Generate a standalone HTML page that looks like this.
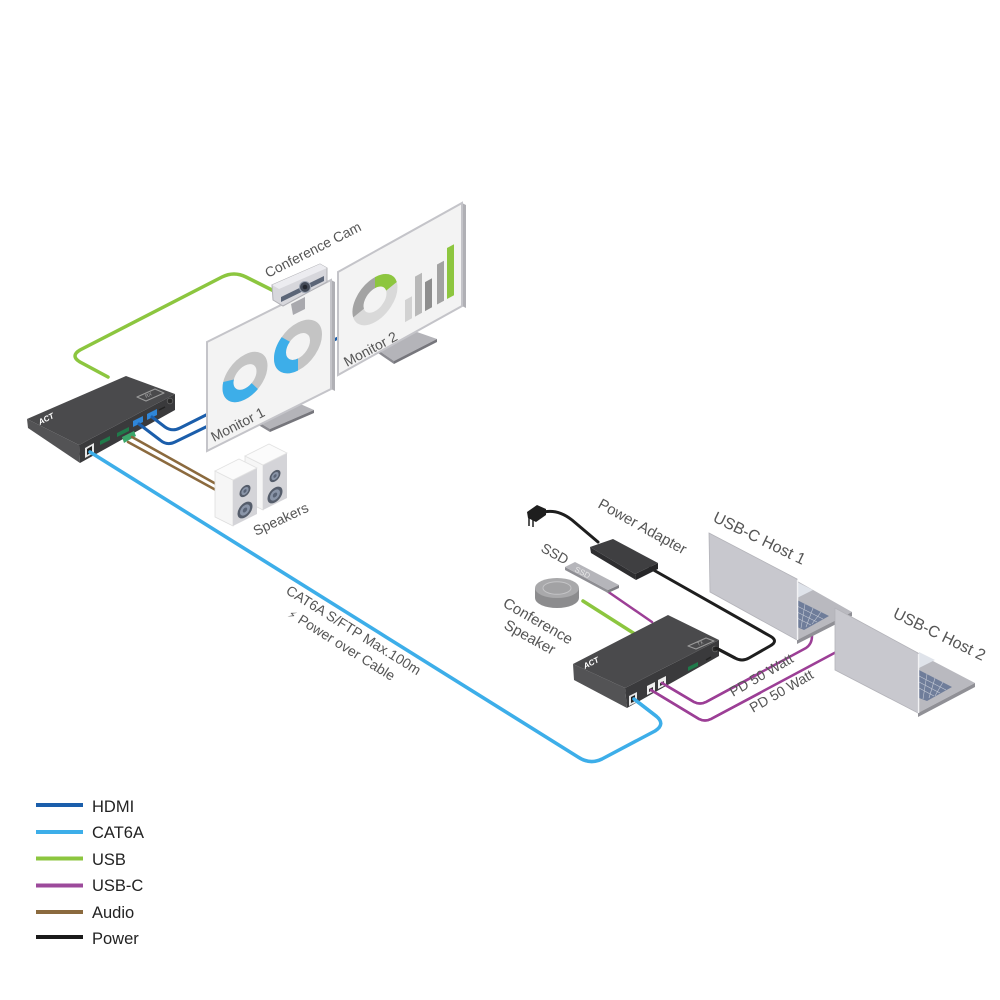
<!DOCTYPE html>
<html><head><meta charset="utf-8"><style>
html,body{margin:0;padding:0;background:#fff;}
svg{display:block;}
text{font-family:"Liberation Sans","DejaVu Sans",sans-serif;}
</style></head><body>
<svg width="1000" height="1000" viewBox="0 0 1000 1000" xmlns="http://www.w3.org/2000/svg">
<rect width="1000" height="1000" fill="#fff"/>

<!-- ===== cables under devices ===== -->
<g fill="none" stroke-linecap="round" stroke-linejoin="round">
  <!-- USB green left -->
  <path d="M108,377 L80,362 Q70,356 80,350 L222,277 Q234,271 246,277 L278,293" stroke="#8cc63f" stroke-width="3.5"/>
  <!-- HDMI between monitors -->
  <path d="M318,348 L346,334" stroke="#1b5eab" stroke-width="3"/>
  <!-- power from plug to adapter -->
  <path d="M544,512 Q558,509 572,520 L598,542" stroke="#1e1e1e" stroke-width="3"/>
  <!-- USB green right -->
  <path d="M583,601 L638,636" stroke="#8cc63f" stroke-width="3.5"/>
  <!-- USB-C SSD -->
  <path d="M607,591 L652,622" stroke="#9c3f96" stroke-width="2.5"/>
  <!-- power adapter to TX -->
  <path d="M650,568 L770,636 Q779,641 770,646 L749,658 Q742,662 735,658 L716,648" stroke="#1e1e1e" stroke-width="3"/>
  <!-- USB-C to laptops -->
  <path d="M662,683 L694,702 Q700,705 706,702 L806,648 Q812,644 812,636" stroke="#9c3f96" stroke-width="2.5"/>
  <path d="M651,690 L699,719 Q705,722 711,719 L840,650" stroke="#9c3f96" stroke-width="2.5"/>
</g>

<!-- ===== RX box ===== -->
<polygon points="27,419 79,445 80,463 28,428" fill="#535355"/>
<polygon points="79,445 175,394 175,410 80,463" fill="#3a3a3c"/>
<polygon points="27,419 126,376 175,394 79,445" fill="#4a4a4c"/>
<text transform="translate(40,425) rotate(-27)" font-size="8" font-weight="bold" font-style="italic" fill="#fff">ACT</text>
<polygon points="137,397 155,389 164,393 146,401" fill="none" stroke="#9a9a9a" stroke-width="1.2" stroke-linejoin="round"/>
<text transform="translate(146,398) rotate(-24)" font-size="5" fill="#aaa">RX</text>
<!-- ports RX -->
<polygon points="85,448 94,443 94,453 85,458" fill="#e6e6e6"/>
<polygon points="87,449 92,446 92,452 87,455" fill="#222"/>
<polygon points="100,441 110,436 110,440 100,445" fill="#1f7a4a"/>
<polygon points="117,433 129,427 129,431 117,437" fill="#1f7a4a"/>
<polygon points="122,437 134,431 136,436 124,443" fill="#3aa76a"/>
<polygon points="133,421 143,416 143,422 133,427" fill="#2f86d8"/>
<polygon points="147,414 157,409 157,415 147,420" fill="#2f86d8"/>
<line x1="159" y1="410" x2="165" y2="407" stroke="#222" stroke-width="1.5"/>
<circle cx="170" cy="401" r="2.8" fill="#2a2a2a" stroke="#666" stroke-width="0.8"/>

<!-- RX cables on top -->
<g fill="none" stroke-linecap="round" stroke-linejoin="round">
  <path d="M152,417 L165,427 Q172,432 180,428 L212,412" stroke="#1b5eab" stroke-width="3"/>
  <path d="M139,424 L160,440 Q167,446 175,442 L212,424" stroke="#1b5eab" stroke-width="3"/>
  <path d="M132,437 L225,489" stroke="#8b6a3e" stroke-width="2.5"/>
  <path d="M128,442 L225,495" stroke="#8b6a3e" stroke-width="2.5"/>
  <path d="M90,452 L578,757 Q590,765 602,759 L655,731 Q666,724 656,716 L634,699" stroke="#3daee9" stroke-width="3.5"/>
</g>

<!-- ===== Monitor 2 ===== -->
<polygon points="378,350 417,332 437,339 394,361" fill="#b4b4b9"/>
<polygon points="394,361 437,339 437,342 394,364" fill="#76767c"/>
<polygon points="378,350 394,361 394,364 378,353" fill="#8a8a90"/>
<polygon points="462,203 466,205 466,308 462,306" fill="#b0b0b5"/>
<polygon points="338,272 462,203 462,306 338,375" fill="#f3f3f3" stroke="#c4c4c9" stroke-width="2"/>
<g transform="matrix(1,-0.55,0,1,338,272)">
  <circle cx="37" cy="48" r="17" fill="none" stroke="#d9d9d9" stroke-width="11"/>
  <circle cx="37" cy="48" r="17" fill="none" stroke="#a3a3a3" stroke-width="11" stroke-dasharray="31.2 200" transform="rotate(165 37 48)"/>
  <circle cx="37" cy="48" r="17" fill="none" stroke="#8dc63f" stroke-width="11" stroke-dasharray="22.3 200" transform="rotate(270 37 48)"/>
  <rect x="67" y="65" width="7" height="22" fill="#d2d2d2"/>
  <rect x="77" y="47" width="7" height="40" fill="#b8b8b8"/>
  <rect x="87" y="58" width="7" height="29" fill="#8e8e8e"/>
  <rect x="99" y="47" width="7" height="40" fill="#a2a2a2"/>
  <rect x="109" y="36" width="7" height="51" fill="#8dc63f"/>
</g>
<text transform="translate(347,367) rotate(-28)" font-size="14" fill="#555">Monitor 2</text>

<!-- ===== Monitor 1 ===== -->
<polygon points="255,420 298,403 314,410 270,429" fill="#b4b4b9"/>
<polygon points="270,429 314,410 314,413 270,432" fill="#76767c"/>
<polygon points="255,420 270,429 270,432 255,423" fill="#8a8a90"/>
<polygon points="331,280 335,282 335,391 331,389" fill="#b0b0b5"/>
<polygon points="207,342 331,280 331,389 207,451" fill="#f3f3f3" stroke="#c4c4c9" stroke-width="2"/>
<g transform="matrix(1,-0.5,0,1,207,342)">
  <circle cx="38" cy="54" r="17" fill="none" stroke="#c4c4c4" stroke-width="11"/>
  <circle cx="38" cy="54" r="17" fill="none" stroke="#3daee9" stroke-width="11" stroke-dasharray="41.5 200" transform="rotate(55 38 54)"/>
  <circle cx="91" cy="50" r="18" fill="none" stroke="#c4c4c4" stroke-width="12"/>
  <circle cx="91" cy="50" r="18" fill="none" stroke="#3daee9" stroke-width="12" stroke-dasharray="43 200" transform="rotate(90 91 50)"/>
</g>
<text transform="translate(214,442) rotate(-27)" font-size="14" fill="#555">Monitor 1</text>

<!-- ===== Conference cam ===== -->
<polygon points="291,304 305,297 305,309 293,315" fill="#a9a9ae"/>
<polygon points="272,285 320,264 327,268 327,282 283,306 273,300" fill="#d7d7dc" stroke="#b0b0b5" stroke-width="1"/>
<polygon points="272,285 320,264 327,268 279,289" fill="#ececf0"/>
<polygon points="281,297 324,276 324,281 281,302" fill="#5b6577"/>
<circle cx="305" cy="287" r="5.5" fill="#444b58" stroke="#9aa2b0" stroke-width="1"/>
<circle cx="305" cy="287" r="2.3" fill="#23272f"/>
<text transform="translate(268,278) rotate(-27)" font-size="14" fill="#555">Conference Cam</text>

<!-- ===== Speakers ===== -->
<!-- speaker 2 (back) -->
<polygon points="245,456 263,465 263,510 245,501" fill="#f6f6f6" stroke="#dedede" stroke-width="0.8"/>
<polygon points="263,465 287,453 287,498 263,510" fill="#d4d4d8"/>
<polygon points="245,456 269,444 287,453 263,465" fill="#fbfbfb" stroke="#e2e2e2" stroke-width="0.8"/>
<g transform="matrix(1,-0.5,0,1,275,476)"><circle r="5.5" fill="#555d6b"/><circle r="3.6" fill="#8a95a8"/><circle r="1.6" fill="#5a6476"/></g>
<g transform="matrix(1,-0.5,0,1,275,495)"><circle r="7.5" fill="#555d6b"/><circle r="5" fill="#8a95a8"/><circle r="2.2" fill="#5a6476"/></g>
<!-- speaker 1 (front) -->
<polygon points="215,471 233,480 233,526 215,517" fill="#f6f6f6" stroke="#dedede" stroke-width="0.8"/>
<polygon points="233,480 257,468 257,514 233,526" fill="#d4d4d8"/>
<polygon points="215,471 239,459 257,468 233,480" fill="#fbfbfb" stroke="#e2e2e2" stroke-width="0.8"/>
<g transform="matrix(1,-0.5,0,1,245,491)"><circle r="5.5" fill="#555d6b"/><circle r="3.6" fill="#8a95a8"/><circle r="1.6" fill="#5a6476"/></g>
<g transform="matrix(1,-0.5,0,1,245,510)"><circle r="7.5" fill="#555d6b"/><circle r="5" fill="#8a95a8"/><circle r="2.2" fill="#5a6476"/></g>
<text transform="translate(256,536) rotate(-25)" font-size="14" fill="#555">Speakers</text>

<!-- ===== CAT6A label ===== -->
<text transform="translate(285,593) rotate(32)" font-size="14" fill="#555">CAT6A S/FTP Max.100m</text>
<text transform="translate(287,616) rotate(32)" font-size="14" fill="#555"><tspan font-family="DejaVu Sans" font-size="11">⚡</tspan> Power over Cable</text>

<!-- ===== Right side devices ===== -->
<!-- plug -->
<polygon points="527,512 537,505 546,509 546,515 536,522 528,518" fill="#1e1e1e"/>
<line x1="529" y1="518" x2="529" y2="526" stroke="#1e1e1e" stroke-width="1.5"/>
<line x1="533" y1="520" x2="533" y2="527" stroke="#1e1e1e" stroke-width="1.5"/>
<text transform="translate(597,507) rotate(29)" font-size="15" fill="#555">Power Adapter</text>
<!-- power adapter -->
<polygon points="590,547 635,574 636,580 591,553" fill="#2e2e30"/>
<polygon points="635,574 658,563 658,569 636,580" fill="#262628"/>
<polygon points="590,547 613,539 658,563 635,574" fill="#3f3f41"/>
<!-- SSD -->
<text transform="translate(540,551) rotate(29)" font-size="14" fill="#555">SSD</text>
<polygon points="565,567 608,590 608,593 565,570" fill="#8e8e93"/>
<polygon points="608,590 619,585 619,588 608,593" fill="#7e7e83"/>
<polygon points="565,567 575,562 619,585 608,590" fill="#b5b5ba"/>
<text transform="translate(574,571) rotate(28)" font-size="8" fill="#e6e6e6">SSD</text>
<!-- conference speaker puck -->
<path d="M535,588 L535,598 A22,10 0 0,0 579,598 L579,588 Z" fill="#8c8c8e"/>
<ellipse cx="557" cy="588" rx="22" ry="10" fill="#a9a9ab"/>
<ellipse cx="557" cy="588" rx="14" ry="6.3" fill="#a2a2a4" stroke="#c4c4c6" stroke-width="1"/>
<text transform="translate(502,606) rotate(30)" font-size="15" fill="#555">Conference</text>
<text transform="translate(503,628) rotate(29)" font-size="15" fill="#555">Speaker</text>

<!-- TX box -->
<polygon points="573,664 625,688 627,708 574,680" fill="#535355"/>
<polygon points="625,688 719,640 719,656 627,708" fill="#3a3a3c"/>
<polygon points="573,664 668,615 719,640 625,688" fill="#4a4a4c"/>
<text transform="translate(585,669) rotate(-27)" font-size="8" font-weight="bold" font-style="italic" fill="#fff">ACT</text>
<polygon points="688,646 706,638 714,641 696,649" fill="none" stroke="#9a9a9a" stroke-width="1.2" stroke-linejoin="round"/>
<text transform="translate(698,646) rotate(-24)" font-size="5" fill="#aaa">TX</text>
<polygon points="629,696 637,692 637,702 629,706" fill="#e6e6e6"/>
<polygon points="631,697 635,695 635,701 631,703" fill="#222"/>
<polygon points="647,686 655,682 655,691 647,695" fill="#eee"/>
<polygon points="649,689 653,687 653,690 649,692" fill="#333"/>
<polygon points="658,680 666,676 666,685 658,689" fill="#eee"/>
<polygon points="660,683 664,681 664,684 660,686" fill="#333"/>
<polygon points="688,667 698,662 698,666 688,671" fill="#1f7a4a"/>
<line x1="706" y1="660" x2="711" y2="657" stroke="#222" stroke-width="1.5"/>
<circle cx="715" cy="649" r="2.8" fill="#2a2a2a" stroke="#666" stroke-width="0.8"/>

<!-- TX cables on top -->
<g fill="none" stroke-linecap="round" stroke-linejoin="round">
  <path d="M662,683 L694,702 Q700,705 706,702 L760,673" stroke="#9c3f96" stroke-width="2.5"/>
  <path d="M651,690 L699,719 Q705,722 711,719 L760,693" stroke="#9c3f96" stroke-width="2.5"/>
  <path d="M716,648 L735,658" stroke="#1e1e1e" stroke-width="3"/>
  <path d="M634,699 L656,716" stroke="#3daee9" stroke-width="3.5"/>
</g>

<text transform="translate(733,697) rotate(-30)" font-size="14" fill="#555">PD 50 Watt</text>
<text transform="translate(753,713) rotate(-30)" font-size="14" fill="#555">PD 50 Watt</text>

<!-- ===== Laptop 1 ===== -->
<polygon points="710,592 797,640 852,612 762,561" fill="#b9b9bf"/>
<polygon points="797,640 852,612 852,616 797,644" fill="#909096"/>
<polygon points="797,582 813,590 797,598" fill="#dfe3ea"/>
<polygon points="797,600 829,616 804,630 797,627" fill="#6f7d9a"/>
<g stroke="#c6cbd6" stroke-width="0.6">
  <line x1="797" y1="606" x2="823" y2="619"/><line x1="797" y1="612" x2="817" y2="622"/><line x1="797" y1="618" x2="811" y2="625"/>
  <line x1="805" y1="604" x2="801" y2="628"/><line x1="813" y1="608" x2="806" y2="627"/><line x1="821" y1="612" x2="812" y2="624"/>
</g>
<polygon points="709,533 797,579 797,640 710,592" fill="#c8c8ce" stroke="#b3b3b9" stroke-width="0.8"/>
<line x1="797.5" y1="580" x2="797.5" y2="640" stroke="#f2f2f4" stroke-width="1.5"/>
<text transform="translate(712,521) rotate(26)" font-size="16" fill="#555">USB-C Host 1</text>

<!-- ===== Laptop 2 ===== -->
<polygon points="835,670 918,713 975,683 889,638" fill="#b9b9bf"/>
<polygon points="918,713 975,683 975,687 918,717" fill="#909096"/>
<polygon points="919,652 935,660 919,668" fill="#dfe3ea"/>
<polygon points="919,670 952,687 927,701 919,698" fill="#6f7d9a"/>
<g stroke="#c6cbd6" stroke-width="0.6">
  <line x1="919" y1="676" x2="946" y2="690"/><line x1="919" y1="682" x2="940" y2="693"/><line x1="919" y1="688" x2="934" y2="696"/>
  <line x1="927" y1="674" x2="923" y2="699"/><line x1="935" y1="678" x2="929" y2="698"/><line x1="943" y1="682" x2="935" y2="696"/>
</g>
<polygon points="835,608 918,653 918,713 835,670" fill="#c8c8ce" stroke="#b3b3b9" stroke-width="0.8"/>
<line x1="918.5" y1="654" x2="918.5" y2="713" stroke="#f2f2f4" stroke-width="1.5"/>
<text transform="translate(892,617) rotate(26)" font-size="16" fill="#555">USB-C Host 2</text>

<!-- ===== Legend ===== -->
<g stroke-width="4">
  <line x1="36" y1="805" x2="83" y2="805" stroke="#1b5eab"/>
  <line x1="36" y1="832" x2="83" y2="832" stroke="#3daee9"/>
  <line x1="36" y1="858.5" x2="83" y2="858.5" stroke="#8cc63f"/>
  <line x1="36" y1="885.5" x2="83" y2="885.5" stroke="#9c4a9b"/>
  <line x1="36" y1="912" x2="83" y2="912" stroke="#8b6a3e"/>
  <line x1="36" y1="937" x2="83" y2="937" stroke="#1a1a1a"/>
</g>
<g font-size="16.5" fill="#222">
  <text x="92" y="812">HDMI</text>
  <text x="92" y="838">CAT6A</text>
  <text x="92" y="865">USB</text>
  <text x="92" y="891">USB-C</text>
  <text x="92" y="918">Audio</text>
  <text x="92" y="944">Power</text>
</g>
</svg>
</body></html>
